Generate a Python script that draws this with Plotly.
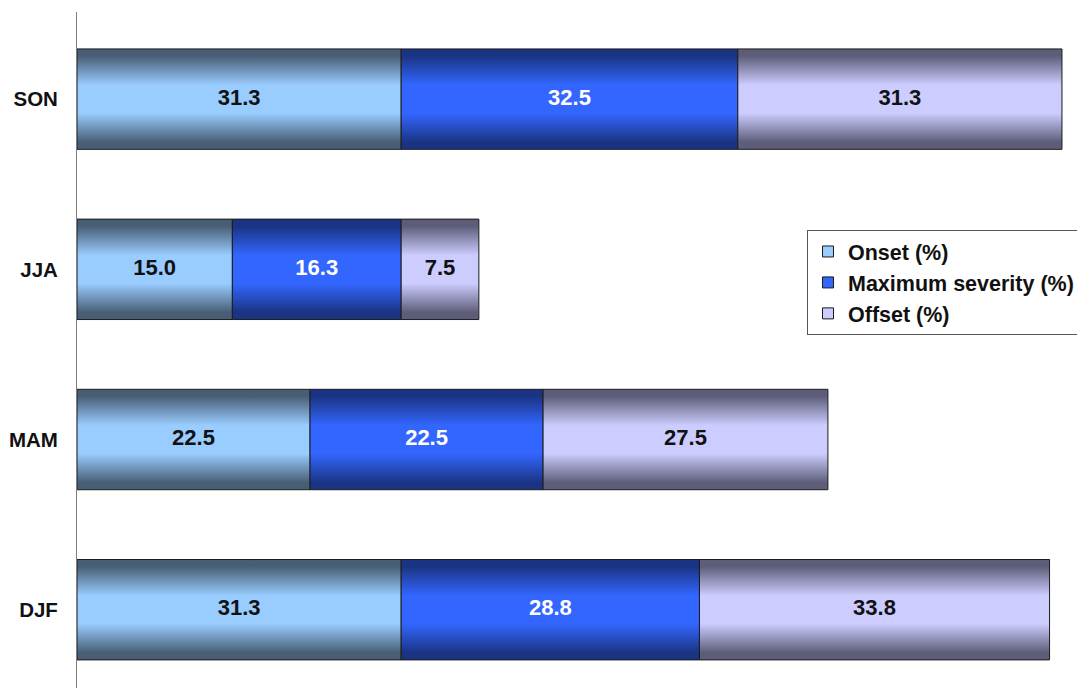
import plotly.graph_objects as go

# Seasonal shares of drought events by phase (stacked, %)
seasons = ["DJF", "MAM", "JJA", "SON"]
onset = [31.3, 22.5, 15.0, 31.3]
max_severity = [28.8, 22.5, 16.3, 32.5]
offset = [33.8, 27.5, 7.5, 31.3]

series_names = ["Onset (%)", "Maximum severity (%)", "Offset (%)"]
series_values = [onset, max_severity, offset]
edge_colors = ["#485e75", "#1a3483", "#5d5d79"]
centre_colors = ["#99ccff", "#3366ff", "#ccccff"]
label_colors = ["#111111", "#ffffff", "#111111"]

BAR_THICKNESS = 0.59
FONT = "Liberation Sans, Arial, sans-serif"
OUTLINE = "#1c1c1c"


def shaded_scale(edge, centre):
    # darker rims with a bright band in the middle, like a lit cylinder
    return [
        [0.0, edge],
        [0.07, edge],
        [0.36, centre],
        [0.64, centre],
        [0.93, edge],
        [1.0, edge],
    ]


fig = go.Figure()

running = [0.0] * len(seasons)
for name, vals, edge, centre, tcol in zip(
    series_names, series_values, edge_colors, centre_colors, label_colors
):
    scale = shaded_scale(edge, centre)
    mids = []
    for i, v in enumerate(vals):
        x0, x1 = running[i], running[i] + v
        y0, y1 = i - BAR_THICKNESS / 2, i + BAR_THICKNESS / 2
        fig.add_trace(
            go.Scatter(
                x=[x0, x1, x1, x0, x0],
                y=[y0, y0, y1, y1, y0],
                mode="lines",
                fill="toself",
                fillgradient=dict(type="vertical", colorscale=scale, start=y0, stop=y1),
                line=dict(color=OUTLINE, width=1),
                legendgroup=name,
                showlegend=False,
                hoverinfo="skip",
            )
        )
        mids.append(x0 + v / 2)
        running[i] = x1
    fig.add_trace(
        go.Scatter(
            x=mids,
            y=list(range(len(seasons))),
            mode="text",
            text=[f"{v:.1f}" for v in vals],
            textposition="middle center",
            textfont=dict(family=FONT, size=22, color=tcol, weight="bold"),
            legendgroup=name,
            showlegend=False,
            name=name,
            customdata=seasons,
            hovertemplate="%{customdata}: %{text}<extra>" + name + "</extra>",
        )
    )

# legend swatches
for name, centre in zip(series_names, centre_colors):
    fig.add_trace(
        go.Scatter(
            x=[None],
            y=[None],
            mode="markers",
            name=name,
            legendgroup=name,
            marker=dict(symbol="square", size=11, color=centre, line=dict(color=OUTLINE, width=1)),
        )
    )

fig.update_layout(
    width=1077,
    height=688,
    margin=dict(l=77, r=0, t=12, b=0, autoexpand=False),
    plot_bgcolor="white",
    paper_bgcolor="white",
    font=dict(family=FONT, color="#111111"),
    legend=dict(
        xref="container",
        yref="container",
        x=807 / 1077,
        y=1 - 230 / 688,
        xanchor="left",
        yanchor="top",
        traceorder="normal",
        bgcolor="white",
        bordercolor="#555555",
        borderwidth=1,
        font=dict(family=FONT, size=21.5, color="#111111", weight="bold"),
    ),
    xaxis=dict(
        range=[0, 96.55],
        showgrid=False,
        zeroline=False,
        showline=False,
        showticklabels=False,
        ticks="",
        fixedrange=True,
    ),
    yaxis=dict(
        range=[-0.46, 3.512],
        tickmode="array",
        tickvals=list(range(len(seasons))),
        ticktext=seasons,
        showgrid=False,
        zeroline=False,
        showline=True,
        linecolor="#7f7f7f",
        linewidth=1,
        ticks="",
        ticklabelstandoff=14,
        tickfont=dict(family=FONT, size=20.5, color="#111111", weight="bold"),
        fixedrange=True,
    ),
)

fig.write_html("out.html")
